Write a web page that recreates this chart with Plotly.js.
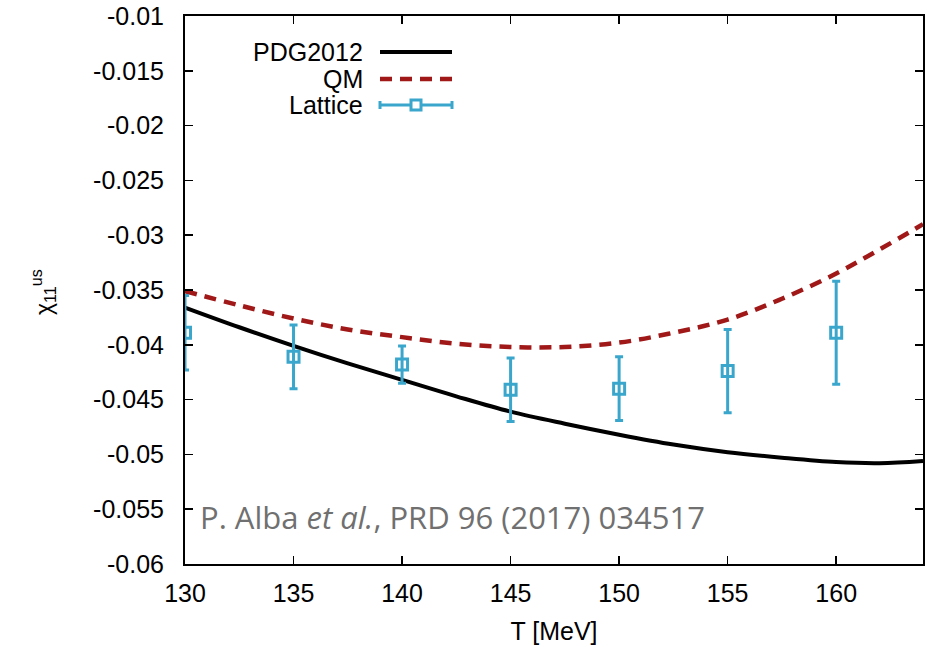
<!DOCTYPE html>
<html><head><meta charset="utf-8">
<script src="https://cdn.plot.ly/plotly-3.0.1.min.js"></script>
<style>html,body{margin:0;padding:0;background:#fff;}#chart{width:928px;height:647px;}</style>
</head><body><div id="chart"></div>
<script>
// Curves
const curveT = [130, 132.5, 135, 137.5, 140, 142.5, 145, 147.5, 150, 152.5, 155, 157.5, 160, 162, 164];
const pdg2012 = [-0.0366, -0.0384, -0.0401, -0.0417, -0.0432, -0.0447, -0.0461, -0.0472, -0.0482, -0.0491, -0.0498, -0.0503, -0.0507, -0.0508, -0.0506];
const qm = [-0.0351, -0.0364, -0.0376, -0.0386, -0.0393, -0.0399, -0.0402, -0.0402, -0.0398, -0.0389, -0.0377, -0.0358, -0.0335, -0.0313, -0.0290];
// Lattice points
const latT = [130, 135, 140, 145, 150, 155, 160];
const latVal = [-0.0389, -0.0411, -0.0418, -0.0441, -0.0440, -0.0424, -0.0389];
const latErr = [0.0034, 0.0029, 0.0017, 0.0029, 0.0029, 0.0038, 0.0047];
// Ticks
const xTicks = [130, 135, 140, 145, 150, 155, 160];
const yTicks = [-0.06, -0.055, -0.05, -0.045, -0.04, -0.035, -0.03, -0.025, -0.02, -0.015, -0.01];
const yTickText = ['-0.06','-0.055','-0.05','-0.045','-0.04','-0.035','-0.03','-0.025','-0.02','-0.015','-0.01'];
const legendNames = ['PDG2012', 'QM', 'Lattice'];
const yTitle = 'χ<sub>11</sub><sup>us</sup>';

const cPDG = '#000000', cQM = '#a01818', cLat = '#3aa6cc';
const font = 'Liberation Sans, Arial, Helvetica, sans-serif';
const fs = 25;

const traces = [
  {x: curveT, y: pdg2012, mode: 'lines', line: {color: cPDG, width: 4, shape: 'spline'}, name: legendNames[0], showlegend: false},
  {x: curveT, y: qm, mode: 'lines', line: {color: cQM, width: 4.5, shape: 'spline', dash: '12px,8px'}, name: legendNames[1], showlegend: false},
  {x: latT, y: latVal, mode: 'markers', name: legendNames[2], showlegend: false,
   marker: {symbol: 'square-open', size: 11, color: cLat, line: {width: 3, color: cLat}},
   error_y: {type: 'data', array: latErr, visible: true, color: cLat, thickness: 3, width: 4}}
];

// Manual legend (text on the left, sample on the right), paper coordinates
const W = 928 - 185 - 5, H = 647 - 16 - 83;
function px(x){ return (x - 185) / W; }
function py(y){ return (647 - 83 - y) / H; }
const legY = [52, 79, 105];
const shapes = [
  {type: 'line', xref: 'paper', yref: 'paper', x0: px(380), x1: px(452), y0: py(legY[0]), y1: py(legY[0]), line: {color: cPDG, width: 4}},
  {type: 'line', xref: 'paper', yref: 'paper', x0: px(380), x1: px(452), y0: py(legY[1]), y1: py(legY[1]), line: {color: cQM, width: 4.5, dash: '12px,8px'}},
  {type: 'line', xref: 'paper', yref: 'paper', x0: px(380), x1: px(452), y0: py(legY[2]), y1: py(legY[2]), line: {color: cLat, width: 3}},
  {type: 'line', xref: 'paper', yref: 'paper', x0: px(380), x1: px(380), y0: py(legY[2]-4), y1: py(legY[2]+4), line: {color: cLat, width: 3}},
  {type: 'line', xref: 'paper', yref: 'paper', x0: px(452), x1: px(452), y0: py(legY[2]-4), y1: py(legY[2]+4), line: {color: cLat, width: 3}},
  {type: 'rect', xref: 'paper', yref: 'paper', x0: px(411), x1: px(421), y0: py(legY[2]-5), y1: py(legY[2]+5), line: {color: cLat, width: 3}, fillcolor: '#ffffff'}
];
const annotations = legendNames.map((n, i) => ({
  text: n, xref: 'paper', yref: 'paper', x: px(365), y: py(legY[i]), xanchor: 'right', yanchor: 'middle',
  showarrow: false, font: {family: font, size: fs, color: '#000'}
}));
annotations.push({
  text: 'P. Alba <i>et al.</i>, PRD 96 (2017) 034517', xref: 'paper', yref: 'paper',
  x: px(198), y: py(517), xanchor: 'left', yanchor: 'middle', showarrow: false,
  font: {family: 'Open Sans, Lato, sans-serif', size: 31, color: '#707070'}
});
// y-axis title, placed as rotated text
annotations.push({
  text: yTitle, xref: 'paper', yref: 'paper', x: px(43), y: py(292), xanchor: 'center', yanchor: 'middle',
  textangle: -90, showarrow: false, font: {family: font, size: 23, color: '#000'}
});

const layout = {
  width: 928, height: 647,
  margin: {l: 185, r: 5, t: 16, b: 83},
  paper_bgcolor: '#fff', plot_bgcolor: '#fff',
  showlegend: false,
  font: {family: font, size: fs, color: '#000'},
  xaxis: {range: [130, 164], tickvals: xTicks, ticks: 'inside', ticklen: 8, tickwidth: 1.5, tickcolor: '#000',
          showline: true, linecolor: '#000', linewidth: 2, mirror: 'ticks', showgrid: false, zeroline: false,
          ticklabelstandoff: 6,
          tickfont: {size: fs}, title: {text: 'T [MeV]', font: {size: fs}, standoff: 16}},
  yaxis: {range: [-0.06, -0.01], tickvals: yTicks, ticktext: yTickText, ticks: 'inside', ticklen: 8, tickwidth: 1.5, tickcolor: '#000',
          showline: true, linecolor: '#000', linewidth: 2, mirror: 'ticks', showgrid: false, zeroline: false,
          ticklabelstandoff: 14,
          tickfont: {size: fs}},
  shapes: shapes,
  annotations: annotations
};
Plotly.newPlot('chart', traces, layout, {displayModeBar: false, staticPlot: true});
</script></body></html>
